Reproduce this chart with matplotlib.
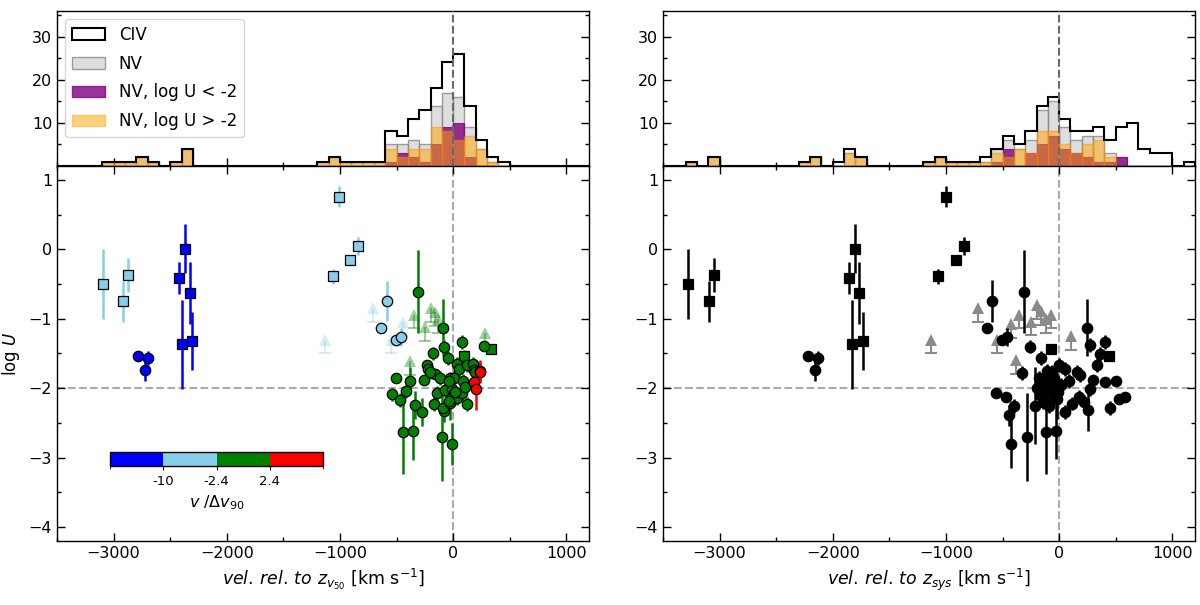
import numpy as np
import matplotlib
matplotlib.use('Agg')
import matplotlib as mpl
import matplotlib.pyplot as plt
from matplotlib.colors import ListedColormap, BoundaryNorm
from matplotlib.patches import Patch
from matplotlib.ticker import MultipleLocator

# ---------------- histogram data (bin left edges, 100 km/s bins) ----------------
civ_l_bins = [-3100, -3000, -2900, -2800, -2700, -2500, -2400, -1200, -1100, -1000, -900, -800, -700,
              -600, -500, -400, -300, -200, -100, 0, 100, 200, 300, 400]
civ_l_counts = [1, 1, 1, 2, 1, 1, 4, 1, 2, 1, 1, 1, 1, 8, 7, 11, 13, 18, 24, 26, 14, 6, 2, 1]
nv_l_bins = [-3100, -3000, -2900, -2800, -2700, -2500, -2400, -1200, -1100, -1000, -900, -800, -700,
             -600, -500, -400, -300, -200, -100, 0, 100, 200, 300]
nv_l_counts = [1, 1, 1, 2, 1, 1, 4, 1, 2, 1, 1, 1, 1, 5, 5, 6, 5, 14, 17, 16, 9, 4, 1]
lo_l_bins = [-600, -500, -400, -300, -200, -100, 0, 100]
lo_l_counts = [1, 3, 2, 1, 5, 9, 10, 2]
hi_l_bins = [-3100, -3000, -2900, -2800, -2700, -2500, -2400, -1200, -1100, -1000, -900, -800, -700,
             -600, -500, -400, -300, -200, -100, 0, 100, 200, 300]
hi_l_counts = [1, 1, 1, 2, 1, 1, 4, 1, 2, 1, 1, 1, 1, 4, 2, 4, 4, 9, 8, 6, 7, 4, 1]

civ_r_bins = [-3300, -3100, -2300, -2200, -2000, -1900, -1800, -1200, -1100, -1000, -900, -800, -700,
              -600, -500, -400, -300, -200, -100, 0, 100, 200, 300, 400, 500, 600, 700, 800, 900, 1100]
civ_r_counts = [1, 2, 1, 2, 1, 4, 2, 1, 2, 1, 1, 1, 2, 4, 7, 5, 8, 14, 16, 11, 8, 8, 9, 6, 9, 10, 4, 3, 3, 1]
nv_r_bins = [-3300, -3100, -2300, -2200, -1900, -1800, -1200, -1100, -1000, -900, -800, -700,
             -600, -500, -400, -300, -200, -100, 0, 100, 200, 300, 400, 500]
nv_r_counts = [1, 2, 1, 2, 3, 2, 1, 2, 1, 1, 1, 1, 4, 6, 4, 6, 13, 15, 9, 6, 7, 7, 3, 2]
lo_r_bins = [-600, -500, -300, -200, -100, 0, 100, 200, 300, 400, 500]
lo_r_counts = [1, 4, 3, 5, 7, 4, 3, 2, 1, 1, 2]
hi_r_bins = [-3300, -3100, -2300, -2200, -1900, -1800, -1200, -1100, -1000, -900, -800, -700,
             -600, -500, -400, -300, -200, -100, 0, 100, 200, 300, 400]
hi_r_counts = [1, 2, 1, 2, 3, 2, 1, 2, 1, 1, 1, 1, 3, 2, 4, 3, 8, 8, 5, 3, 5, 6, 2]

# ---------------- scatter data: left panel (v relative to z_v50) ----------------
left_v = [-2419, -2367, -2329, -2396, -2303,
          -2785, -2697, -2724,
          -3098, -2917, -2873, -1060, -1010, -914, -838,
          -586, -636, -502, -461,
          98, 338,
          -311, -86, -81, 75, 273, -180, -48, -232, -218, -159, -502, -256, -384, -116, -28,
          31, 54, 118, 177, 182, 7, 89, -539, -472, -417, -335, -276, -446, -358, -101, -13,
          -168, -81, -92, -28, 31, 118, 75, -145, -72, -13, 16, -37, 104, -33, -203, 191,
          235, 182, 200, 241]
left_logU = [-0.41, 0.01, -0.63, -1.37, -1.32,
             -1.53, -1.57, -1.74,
             -0.50, -0.75, -0.37, -0.39, 0.76, -0.16, 0.05,
             -0.74, -1.13, -1.30, -1.26,
             -1.53, -1.44,
             -0.61, -1.13, -1.40, -1.34, -1.39, -1.50, -1.56, -1.66, -1.73, -1.79, -1.85, -1.88, -1.89, -1.85, -1.86,
             -1.65, -1.72, -1.67, -1.65, -1.74, -1.85, -1.89, -2.09, -2.17, -2.04, -2.24, -2.34, -2.63, -2.62, -2.70, -2.80,
             -2.23, -2.33, -2.28, -2.21, -2.14, -2.23, -2.07, -2.07, -2.03, -2.01, -2.05, -2.18, -1.98, -1.89, -1.77, -1.77,
             -1.75, -1.91, -2.01, -1.77]
left_err = [0.23, 0.35, 0.45, 0.64, 0.42,
            0.05, 0.10, 0.15,
            0.50, 0.29, 0.25, 0.11, 0.15, 0.07, 0.13,
            0.29, 0.05, 0.05, 0.13,
            0.08, 0.05,
            0.60, 0.41, 0.10, 0.10, 0.05, 0.10, 0.10, 0.05, 0.05, 0.05, 0.05, 0.05, 0.20, 0.10, 0.10,
            0.10, 0.10, 0.10, 0.10, 0.10, 0.10, 0.10, 0.10, 0.10, 0.10, 0.20, 0.20, 0.60, 0.42, 0.63, 0.30,
            0.10, 0.15, 0.10, 0.25, 0.10, 0.10, 0.10, 0.10, 0.10, 0.10, 0.10, 0.10, 0.10, 0.10, 0.10, 0.10,
            0.15, 0.10, 0.30, 0.15]
left_marker = ['s'] * 5 + ['o'] * 3 + ['s'] * 7 + ['o'] * 4 + ['s'] * 2 + ['o'] * 47 + ['o'] * 4
left_group = ['blue'] * 8 + ['skyblue'] * 11 + ['green'] * 49 + ['red'] * 4

# lower limits (arrows), left panel
left_lim_v = [-1130, -706, -548, -440, -349, -247, -197, -159, -384, 279, -130]
left_lim_logU = [-1.50, -1.04, -1.50, -1.25, -1.14, -1.32, -1.04, -1.10, -1.81, -1.40, -1.20]
left_lim_group = ['skyblue'] * 4 + ['green'] * 7

# ---------------- scatter data: right panel (v relative to z_sys) ----------------
right_v = [-3278, -3096, -3053, -1857, -1801, -1766, -1833, -1734, -1067, -1003, -915, -842, -76, 441,
           -2219, -2132, -2158,
           -594, -310, -637, -506, -465, -260, -158, 246, 269, 406, 362, 333, -325, -559, -471, -398,
           -442, -427, -281, -120, -26, 55, 254, 450, 532, 582, 500, 406, 298, 275, 158, 187, 173, 114,
           216, -3, 55, 85, -61, -180, -150, -120, -100, -80, -60, -40, -20, -170, -140, -90, -10, 20,
           -200, -110, -50, -210]
right_logU = [-0.50, -0.75, -0.37, -0.41, 0.01, -0.63, -1.37, -1.32, -0.39, 0.76, -0.16, 0.05, -1.43, -1.53,
              -1.53, -1.57, -1.74,
              -0.74, -0.61, -1.13, -1.30, -1.26, -1.40, -1.56, -1.13, -1.38, -1.34, -1.51, -1.67, -1.78, -2.07,
              -2.13, -2.25,
              -2.39, -2.80, -2.70, -2.63, -2.62, -2.34, -2.32, -2.29, -2.16, -2.12, -1.89, -1.91, -1.88, -2.01,
              -1.77, -1.81, -2.13, -2.22,
              -2.20, -1.67, -1.72, -1.89, -1.77, -1.85, -1.95, -2.05, -1.90, -2.00, -2.10, -1.95, -2.15, -2.10,
              -2.20, -2.25, -2.05, -1.95,
              -2.00, -1.75, -1.85, -2.25]
right_err = [0.50, 0.29, 0.25, 0.23, 0.35, 0.45, 0.64, 0.42, 0.11, 0.15, 0.07, 0.13, 0.05, 0.05,
             0.05, 0.10, 0.15,
             0.30, 0.60, 0.05, 0.05, 0.13, 0.10, 0.10, 0.41, 0.10, 0.10, 0.10, 0.10, 0.10, 0.05, 0.05, 0.10,
             0.15, 0.35, 0.63, 0.60, 0.40, 0.10, 0.30, 0.10, 0.05, 0.05, 0.05, 0.05, 0.05, 0.10, 0.10, 0.10,
             0.10, 0.10,
             0.10, 0.10, 0.10, 0.10, 0.10, 0.10, 0.10, 0.15, 0.10, 0.10, 0.10, 0.20, 0.30, 0.10, 0.10, 0.10,
             0.10, 0.10, 0.10, 0.10, 0.10, 0.55]
right_marker = ['s'] * 14 + ['o'] * (len(right_v) - 14)

right_lim_v = [-1134, -713, -354, -427, -550, -199, -158, -252, -120, -76, 105, -383]
right_lim_logU = [-1.50, -1.04, -1.14, -1.28, -1.50, -1.00, -1.09, -1.24, -1.21, -1.14, -1.45, -1.79]

# colour scale for v / Delta v90
cbar_bounds = [-20, -10, -2.4, 2.4, 20]
cbar_colors = ['blue', 'skyblue', 'green', 'red']
cbar_ticks = [-10, -2.4, 2.4]
cbar_ticklabels = ['-10', '-2.4', '2.4']

# ---------------- figure ----------------
W, H = 1200, 605
plt.rcParams['font.family'] = ['DejaVu Sans']
fig = plt.figure(figsize=(W / 100, H / 100), dpi=100)

def fx(px):
    return px / W

def fy(py):
    return 1 - py / H

edges = np.arange(-3500, 1201, 100)
xlim = (-3500, 1200)
ARROW_LEN = 0.2

hist_pos = {0: [fx(57), fy(166), fx(589 - 57), (166 - 10.7) / H],
            1: [fx(663), fy(166), fx(1195 - 663), (166 - 10.7) / H]}
main_pos = {0: [fx(57), fy(541), fx(589 - 57), (541 - 166) / H],
            1: [fx(663), fy(541), fx(1195 - 663), (541 - 166) / H]}

hist_sets = [
    (civ_l_bins, civ_l_counts, nv_l_bins, nv_l_counts, lo_l_bins, lo_l_counts, hi_l_bins, hi_l_counts),
    (civ_r_bins, civ_r_counts, nv_r_bins, nv_r_counts, lo_r_bins, lo_r_counts, hi_r_bins, hi_r_counts),
]

def style_ticks(ax, labelbottom=True):
    ax.tick_params(which='both', direction='in', top=True, right=True, labelsize=11.5)
    ax.tick_params(which='major', length=6, width=1)
    ax.tick_params(which='minor', length=3, width=1)
    ax.tick_params(axis='x', labelbottom=labelbottom)
    for s in ax.spines.values():
        s.set_linewidth(1.0)

def draw_limits(ax, xs, ys, color, alpha):
    xs = np.asarray(xs, float)
    ys = np.asarray(ys, float)
    ax.vlines(xs, ys, ys + ARROW_LEN, colors=color, alpha=alpha, lw=1.5, zorder=1)
    ax.plot(xs, ys + ARROW_LEN, ls='none', marker='^', ms=8, mfc=color, mec=color,
            mew=0, alpha=alpha, zorder=1)
    ax.plot(xs, ys, ls='none', marker='_', ms=9, mec=color, mew=1.5, alpha=alpha, zorder=1)

for i in range(2):
    cb_, cc_, nb_, nc_, lb_, lc_, hb_, hc_ = hist_sets[i]
    axh = fig.add_axes(hist_pos[i])
    axh.hist(np.array(nb_) + 50, bins=edges, weights=nc_, histtype='bar', rwidth=1.0,
             facecolor='lightgrey', edgecolor='grey', alpha=0.75, linewidth=1.0, zorder=1)
    axh.hist(np.array(lb_) + 50, bins=edges, weights=lc_, histtype='bar', rwidth=1.0,
             facecolor='purple', edgecolor='purple', alpha=0.8, linewidth=0.8, zorder=2)
    axh.hist(np.array(hb_) + 50, bins=edges, weights=hc_, histtype='bar', rwidth=1.0,
             facecolor='orange', edgecolor='darkorange', alpha=0.5, linewidth=1.0, zorder=3)
    axh.hist(np.array(cb_) + 50, bins=edges, weights=cc_, histtype='step',
             color='black', linewidth=1.5, zorder=4)
    axh.axvline(0, color='dimgray', ls='--', lw=1.5, zorder=5)
    axh.set_xlim(*xlim)
    axh.set_ylim(0, 36)
    axh.xaxis.set_major_locator(MultipleLocator(1000))
    axh.xaxis.set_minor_locator(MultipleLocator(500))
    axh.set_yticks([10, 20, 30])
    axh.yaxis.set_minor_locator(MultipleLocator(5))
    style_ticks(axh, labelbottom=False)
    axh.tick_params(axis='x', which='both', top=False)
    if i == 0:
        handles = [Patch(facecolor='white', edgecolor='black', linewidth=1.5, label='CIV'),
                   Patch(facecolor='lightgrey', edgecolor='grey', alpha=0.75, label='NV'),
                   Patch(facecolor='purple', edgecolor='purple', alpha=0.8, label='NV, log U < -2'),
                   Patch(facecolor='orange', edgecolor='orange', alpha=0.5, label='NV, log U > -2')]
        axh.legend(handles=handles, loc='upper left', fontsize=12, framealpha=0.8,
                   borderaxespad=0.5, labelspacing=0.65)

cmap = ListedColormap(cbar_colors)
norm = BoundaryNorm(cbar_bounds, cmap.N)

panels = [
    (left_v, left_logU, left_err, left_marker, left_group),
    (right_v, right_logU, right_err, right_marker, ['black'] * len(right_v)),
]
xlabels = [r'$vel.\,rel.\,to\ z_{v_{50}}$ [km s$^{-1}$]',
           r'$vel.\,rel.\,to\ z_{sys}$ [km s$^{-1}$]']

for i in range(2):
    ax = fig.add_axes(main_pos[i])
    v, lu, er, mk, grp = panels[i]
    ax.axvline(0, color='#aaaaaa', ls='--', lw=1.5, zorder=0)
    ax.axhline(-2, color='#aaaaaa', ls='--', lw=1.5, zorder=0)

    # lower limits
    if i == 0:
        for g, a in [('skyblue', 0.35), ('green', 0.38)]:
            xs = [x for x, gg in zip(left_lim_v, left_lim_group) if gg == g]
            ys = [y for y, gg in zip(left_lim_logU, left_lim_group) if gg == g]
            draw_limits(ax, xs, ys, g, a)
    else:
        draw_limits(ax, right_lim_v, right_lim_logU, '#8a8a8a', 1.0)

    # error bars
    for x, y, e, c in zip(v, lu, er, grp):
        ax.errorbar([x], [y], yerr=[e], fmt='none', ecolor=c, elinewidth=1.8, capsize=0, zorder=2)
    # markers
    for x, y, m, c in zip(v, lu, mk, grp):
        ax.plot([x], [y], marker=m, ls='none', ms=7.5, mfc=c, mec='black', mew=0.9, zorder=3)

    ax.set_xlim(*xlim)
    ax.set_ylim(-4.2, 1.2)
    ax.xaxis.set_major_locator(MultipleLocator(1000))
    ax.xaxis.set_minor_locator(MultipleLocator(500))
    ax.yaxis.set_major_locator(MultipleLocator(1))
    ax.yaxis.set_minor_locator(MultipleLocator(0.5))
    style_ticks(ax)
    ax.set_xlabel(xlabels[i], fontsize=12.5, labelpad=4)
    if i == 0:
        ax.set_ylabel(r'log $U$', fontsize=12)
        ax.yaxis.set_label_coords(-0.066, 0.5)

# colour bar inset
cax = fig.add_axes([fx(110), fy(466), fx(323 - 110), 14 / H])
cb = mpl.colorbar.ColorbarBase(cax, cmap=cmap, norm=norm, orientation='horizontal',
                               ticks=cbar_ticks, spacing='uniform')
cb.set_ticklabels(cbar_ticklabels)
cb.ax.tick_params(labelsize=9.5, length=3)
cb.set_label(r'$v$ /$\Delta v_{90}$', fontsize=11.5, labelpad=4)
cb.outline.set_linewidth(1.0)

fig.savefig('out.png', dpi=100)
